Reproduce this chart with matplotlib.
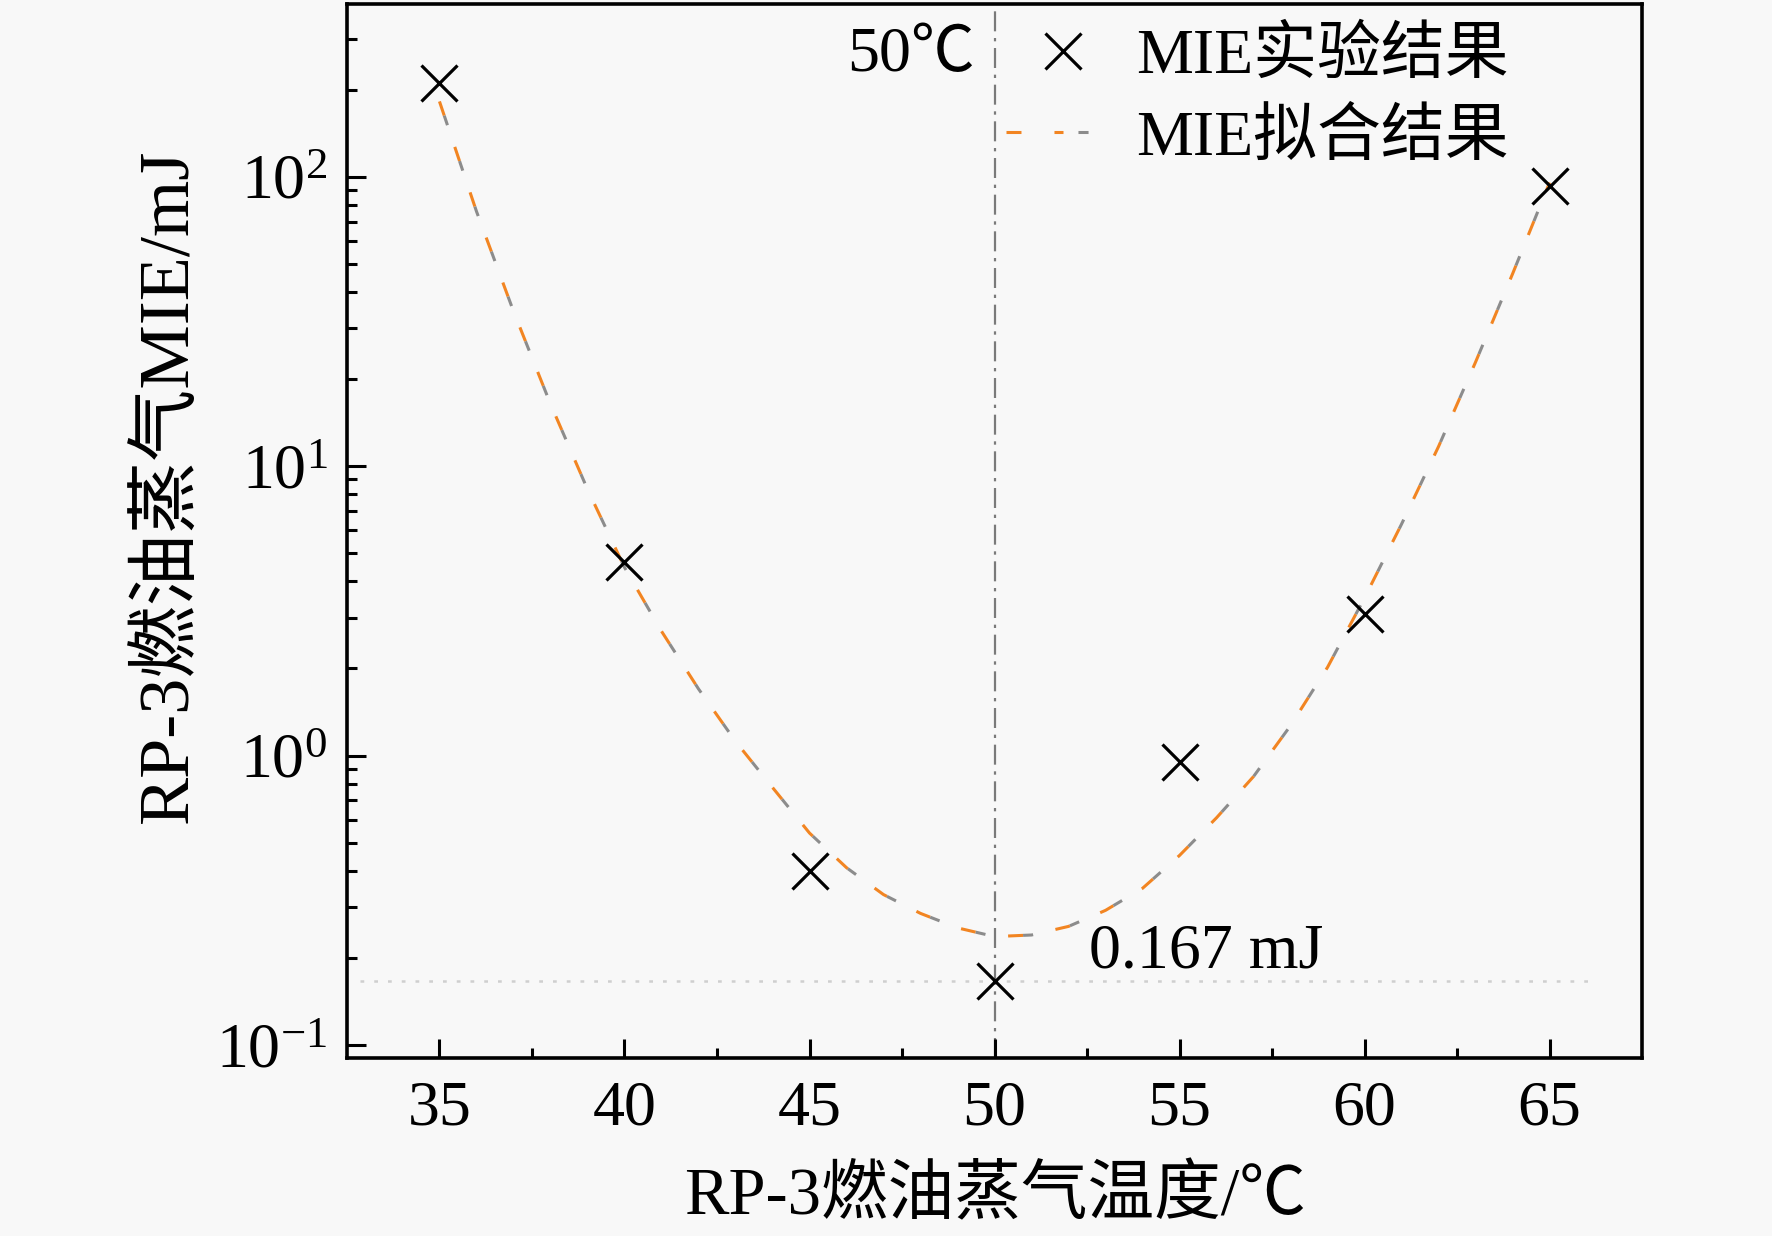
import math
import matplotlib
matplotlib.use("Agg")
import matplotlib.pyplot as plt
from matplotlib.ticker import FixedLocator, LogLocator, FuncFormatter, NullFormatter
from matplotlib.legend_handler import HandlerTuple

plt.rcParams['font.family'] = ['Liberation Serif', 'Noto Sans CJK SC', 'DejaVu Sans']
plt.rcParams['mathtext.fontset'] = 'custom'
plt.rcParams['mathtext.rm'] = 'Liberation Serif'
plt.rcParams['mathtext.it'] = 'Liberation Serif:italic'
plt.rcParams['mathtext.default'] = 'rm'

# ---------------- data ----------------
temps = [35, 40, 45, 50, 55, 60, 65]
mie_exp = [211, 4.65, 0.40, 0.167, 0.95, 3.08, 93]

fit_temps = [35, 36, 37, 38, 39, 40, 41, 42, 43, 44, 45, 46, 47, 48, 49, 50,
             51, 52, 53, 54, 55, 56, 57, 58, 59, 60, 61, 62, 63, 64, 65]
mie_fit = [182, 75.9, 34.3, 16.4, 8.32, 4.47, 2.69, 1.70, 1.12, 0.776, 0.54,
           0.41, 0.331, 0.285, 0.254, 0.237, 0.240, 0.257, 0.292, 0.348,
           0.452, 0.610, 0.847, 1.27, 2.02, 3.51, 6.31, 11.7, 22.9, 46.2, 95.5]

x_ticks = [35, 40, 45, 50, 55, 60, 65]
min_temp = 50
min_mie = 0.167

label_exp = 'MIE实验结果'
label_fit = 'MIE拟合结果'
xlabel = 'RP-3燃油蒸气温度/℃'
ylabel = 'RP-3燃油蒸气MIE/mJ'

# ---------------- style ----------------
FS = 46
bg = '#f8f8f8'
orange = '#f28522'
grey = '#8c8c8c'

fig = plt.figure(figsize=(17.72, 12.36), dpi=100, facecolor=bg)
ax = fig.add_axes([0.1958, 0.144, 0.7309, 0.853], facecolor=bg)

ax.set_yscale('log')
ax.set_xlim(32.5, 67.5)
ax.set_ylim(0.0902, 396)

# reference lines
ax.axvline(min_temp, color='#7a7a7a', lw=1.6, ls=(0, (9, 3, 1.5, 3)), zorder=1)
ax.axhline(min_mie, xmin=0.01, xmax=0.96, color='#cfcfcf', lw=1.8,
           ls=(0, (1.5, 4)), zorder=1)

# fit line: orange + grey two-tone dashes
lw = 2.2
l_or, = ax.plot(fit_temps, mie_fit, color=orange, lw=lw,
                ls=(0, (4.9, 10.8)), zorder=2)
l_gr, = ax.plot(fit_temps, mie_fit, color=grey, lw=lw,
                ls=(10.8, (3.3, 12.4)), zorder=2)

# experiment markers
m, = ax.plot(temps, mie_exp, ls='none', marker='x', ms=26, mew=2.3,
             color='black', zorder=3)

# ticks
ax.xaxis.set_major_locator(FixedLocator(x_ticks))
ax.xaxis.set_minor_locator(FixedLocator([37.5, 42.5, 47.5, 52.5, 57.5, 62.5]))
ax.yaxis.set_major_locator(LogLocator(base=10, numticks=10))
ax.yaxis.set_minor_locator(LogLocator(base=10, subs=range(2, 10), numticks=20))
ax.yaxis.set_major_formatter(FuncFormatter(lambda v, p: r'$10^{%d}$' % round(math.log10(v))))
ax.yaxis.set_minor_formatter(NullFormatter())

ax.tick_params(which='both', direction='in', top=False, right=False,
               labelsize=FS, width=2.2, colors='black')
ax.tick_params(which='major', length=14)
ax.tick_params(which='minor', length=7)
ax.tick_params(axis='x', which='major', pad=16)
ax.tick_params(axis='y', which='major', pad=14)

for s in ax.spines.values():
    s.set_linewidth(2.6)
    s.set_color('black')

ax.set_xlabel(xlabel, fontsize=48, labelpad=20)
ax.set_ylabel(ylabel, fontsize=52)
ax.yaxis.set_label_coords(-0.111, 0.543)

# annotations
ax.annotate('50℃', xy=(min_temp, 1), xycoords=('data', 'axes fraction'),
            xytext=(-14, -38), textcoords='offset points',
            ha='right', va='center', fontsize=FS)
ax.text(52.54, 0.208, '0.167 mJ', ha='left', va='center', fontsize=FS)

leg = ax.legend([m, (l_or, l_gr)], [label_exp, label_fit],
                handler_map={tuple: HandlerTuple(ndivide=None, pad=0)},
                loc='upper left', bbox_to_anchor=(0.509, 0.977),
                frameon=False, fontsize=FS, handlelength=1.77,
                handletextpad=0.27, borderpad=0.0, borderaxespad=0.0,
                labelspacing=0.35)

fig.savefig('out.png', dpi=100, facecolor=bg)
